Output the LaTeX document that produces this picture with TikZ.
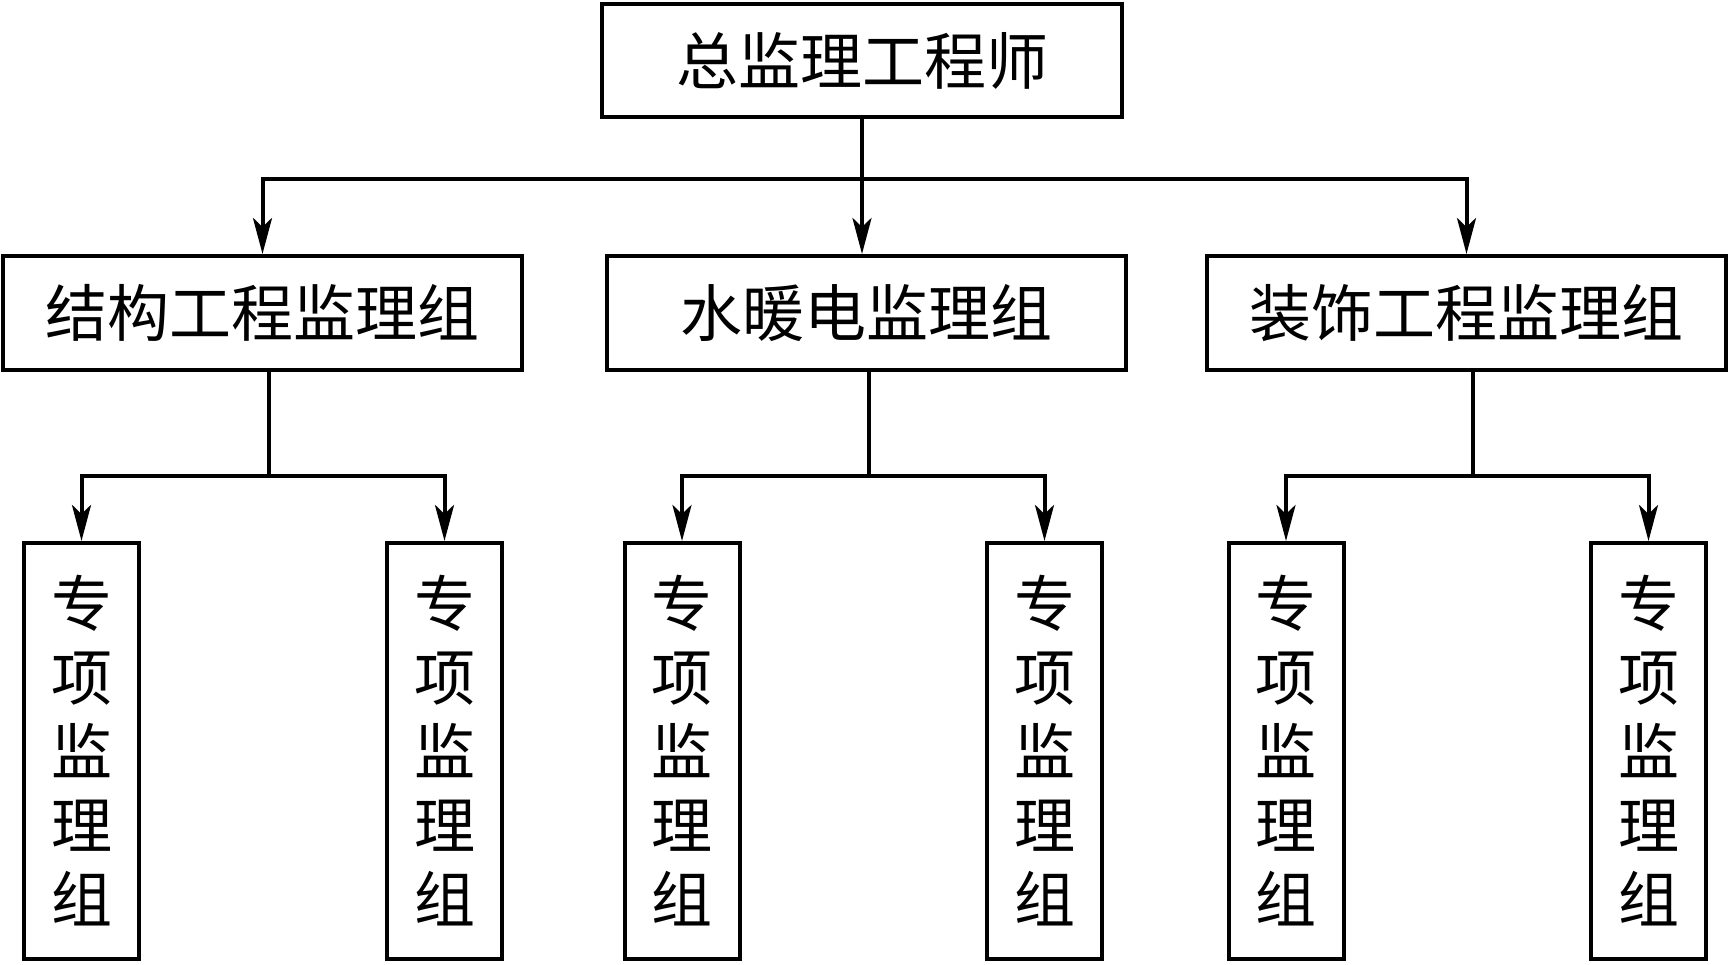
\documentclass[tikz,border=0pt]{standalone}
\usepackage{fontspec}
\newfontfamily\cjk{Noto Sans CJK SC}
\usetikzlibrary{arrows.meta}
\tikzset{
  box/.style={draw, line width=4pt, inner sep=0pt, font=\cjk\fontsize{62}{72}\selectfont},
  topbox/.style={box, minimum width=520pt, minimum height=113pt},
  midbox/.style={box, minimum width=519pt, minimum height=114pt},
  subbox/.style={box, minimum width=115pt, minimum height=416pt, align=center, font=\cjk\fontsize{61}{74}\selectfont},
  conn/.style={line width=4pt},
  arr/.style={conn, -{Stealth[length=36pt,width=19pt,inset=9pt]}}
}
\begin{document}
\begin{tikzpicture}[x=1pt,y=1pt]
\useasboundingbox (0,0) rectangle (1731,964);
\node[topbox] (top) at (862,903.5) {总监理工程师};
\node[midbox] (m1) at (262.5,651) {结构工程监理组};
\node[midbox] (m2) at (866.5,651) {水暖电监理组};
\node[midbox] (m3) at (1466.5,651) {装饰工程监理组};
\node[subbox] (s1) at (81.5,213) {专\\项\\监\\理\\组};
\node[subbox] (s2) at (444.5,213) {专\\项\\监\\理\\组};
\node[subbox] (s3) at (682,213) {专\\项\\监\\理\\组};
\node[subbox] (s4) at (1044.5,213) {专\\项\\监\\理\\组};
\node[subbox] (s5) at (1286,213) {专\\项\\监\\理\\组};
\node[subbox] (s6) at (1648.5,213) {专\\项\\监\\理\\组};
\coordinate (bus) at (0,785);
\coordinate (sbus) at (0,488);
\draw[conn] (top.south) -- (top.south |- bus);
\draw[arr] (top.south |- bus) -| (m1.north);
\draw[arr] (top.south |- bus) -| (m3.north);
\draw[arr] (top.south) -- (top.south |- m2.north);
\coordinate (d1) at ([xshift=6pt]m1.south);
\coordinate (d2) at ([xshift=2pt]m2.south);
\coordinate (d3) at ([xshift=6pt]m3.south);
\draw[conn] (d1) -- (d1 |- sbus);
\draw[conn] (d2) -- (d2 |- sbus);
\draw[conn] (d3) -- (d3 |- sbus);
\draw[arr] (d1 |- sbus) -| (s1.north);
\draw[arr] (d1 |- sbus) -| (s2.north);
\draw[arr] (d2 |- sbus) -| (s3.north);
\draw[arr] (d2 |- sbus) -| (s4.north);
\draw[arr] (d3 |- sbus) -| (s5.north);
\draw[arr] (d3 |- sbus) -| (s6.north);
\end{tikzpicture}
\end{document}
